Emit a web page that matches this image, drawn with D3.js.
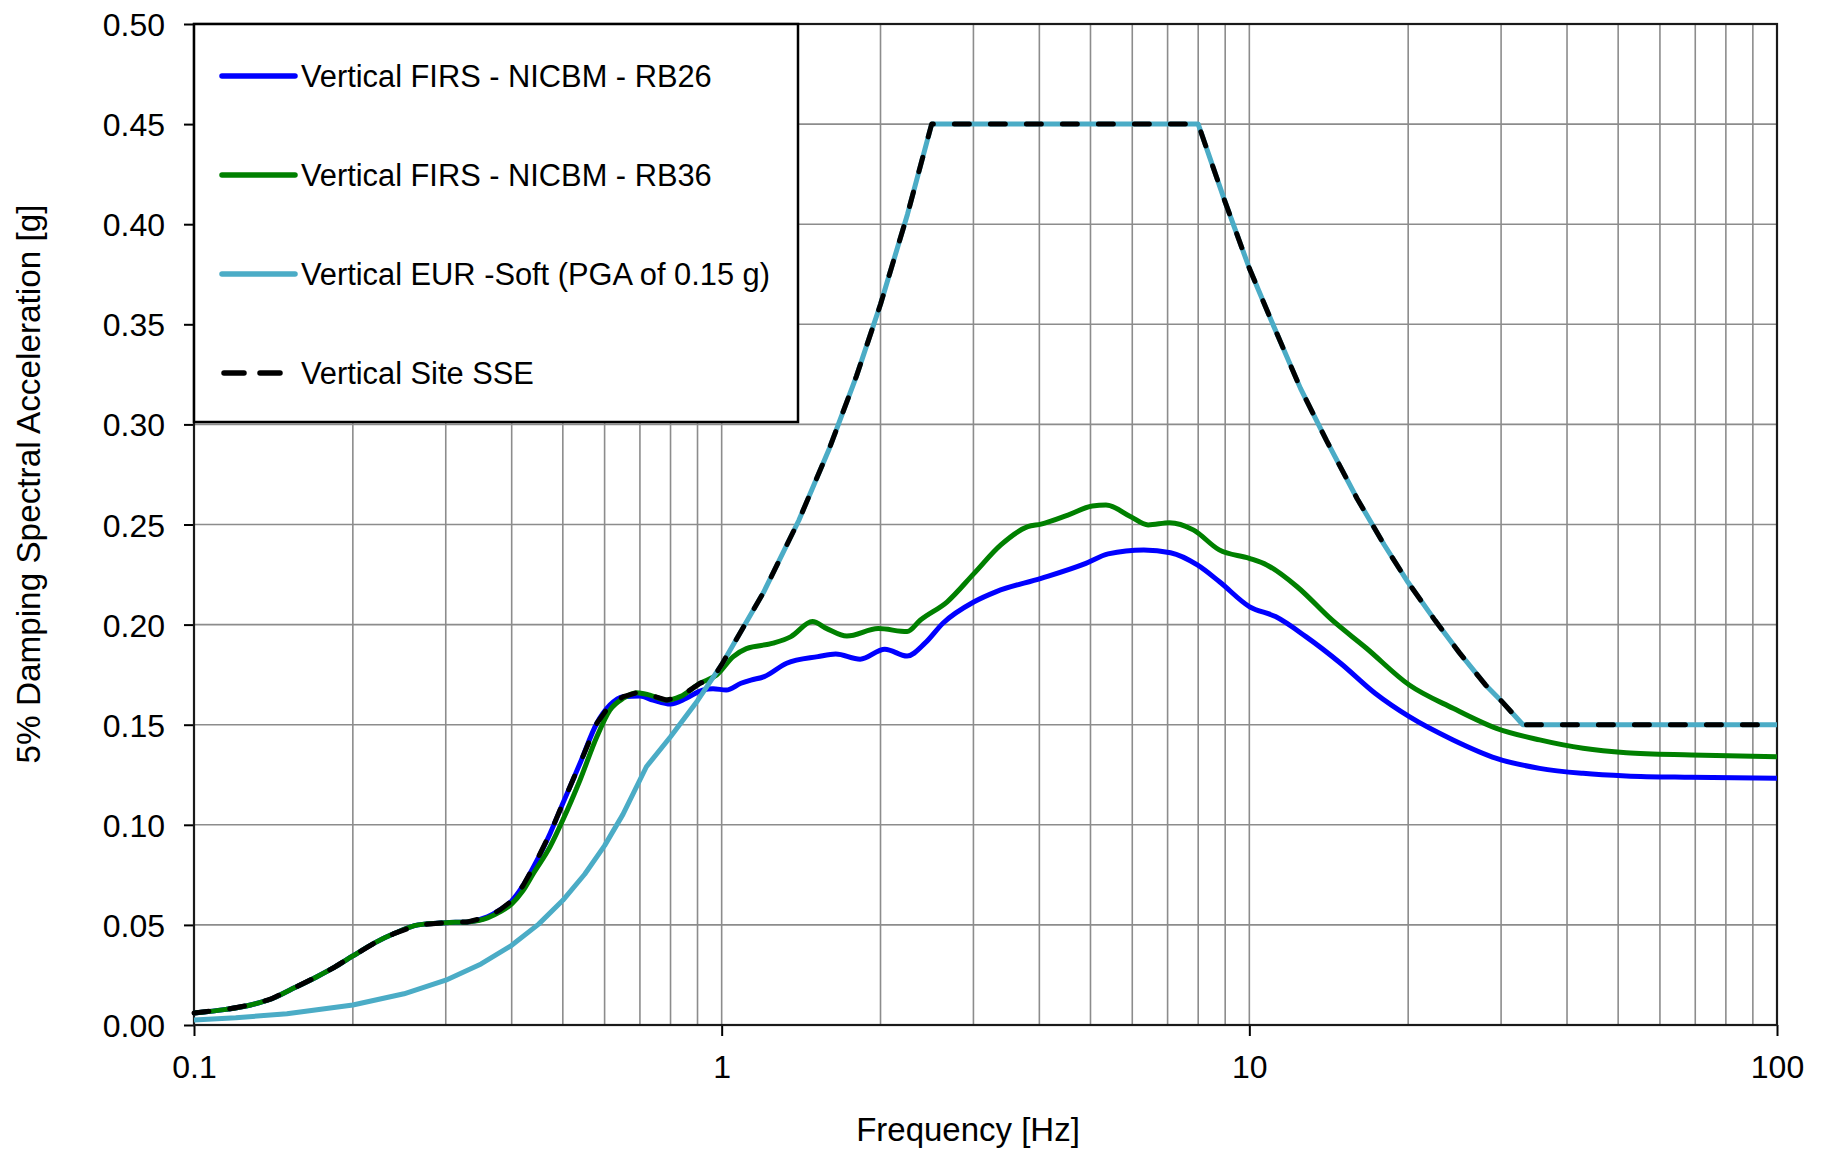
<!DOCTYPE html>
<html>
<head>
<meta charset="utf-8">
<script src="https://cdn.jsdelivr.net/npm/d3@7"></script>
<style>
  body { margin: 0; background: #fff; }
  svg text { font-family: "Liberation Sans", Arial, sans-serif; fill: #000; }
</style>
</head>
<body>
<script>
// values (frequency in Hz, acceleration in g)
var freqRB26 = [0.1, 0.115, 0.128, 0.14, 0.152, 0.171, 0.185, 0.2, 0.22, 0.24, 0.266, 0.3, 0.33, 0.36, 0.38, 0.4, 0.42, 0.44, 0.473, 0.5, 0.539, 0.58, 0.614, 0.651, 0.7, 0.741, 0.8, 0.857, 0.92, 0.963, 1.02, 1.088, 1.136, 1.204, 1.328, 1.522, 1.645, 1.83, 2.038, 2.246, 2.428, 2.626, 3.009, 3.316, 4.03, 4.9, 5.4, 6.31, 7.09, 7.97, 8.78, 10.0, 11.21, 12.8, 14.89, 17.31, 20.1, 24.33, 29.4, 35.5, 42.9, 51.8, 68.8, 100];
var accRB26 = [0.006, 0.0078, 0.010, 0.013, 0.0175, 0.0241, 0.029, 0.0345, 0.041, 0.0458, 0.050, 0.0511, 0.0515, 0.054, 0.0575, 0.062, 0.0695, 0.079, 0.0957, 0.1107, 0.1307, 0.1507, 0.1598, 0.164, 0.1643, 0.1623, 0.1603, 0.1632, 0.1673, 0.168, 0.1673, 0.1707, 0.1723, 0.174, 0.1807, 0.184, 0.1853, 0.1827, 0.1877, 0.1843, 0.1907, 0.2007, 0.2114, 0.2165, 0.2231, 0.2306, 0.2353, 0.2373, 0.2359, 0.2298, 0.2214, 0.209, 0.204, 0.194, 0.1807, 0.1657, 0.154, 0.1424, 0.1332, 0.1282, 0.1257, 0.1244, 0.1237, 0.1232];

var freqRB36 = [0.1, 0.115, 0.128, 0.14, 0.152, 0.171, 0.185, 0.2, 0.22, 0.24, 0.266, 0.3, 0.33, 0.36, 0.38, 0.4, 0.42, 0.44, 0.473, 0.5, 0.539, 0.58, 0.614, 0.651, 0.69, 0.731, 0.787, 0.834, 0.91, 0.978, 1.052, 1.114, 1.252, 1.353, 1.486, 1.582, 1.727, 1.98, 2.246, 2.381, 2.676, 3.009, 3.381, 3.802, 4.03, 4.53, 5.04, 5.35, 5.95, 6.43, 7.06, 7.83, 8.77, 10.0, 10.79, 12.32, 14.34, 16.67, 20.1, 24.33, 29.4, 35.5, 42.9, 51.8, 68.8, 100];
var accRB36 = [0.006, 0.0078, 0.010, 0.013, 0.0175, 0.0241, 0.029, 0.0345, 0.041, 0.0458, 0.050, 0.0511, 0.0515, 0.0535, 0.0565, 0.0605, 0.067, 0.0758, 0.0891, 0.1024, 0.1224, 0.144, 0.1573, 0.1632, 0.166, 0.1648, 0.1623, 0.164, 0.1707, 0.1748, 0.184, 0.188, 0.1907, 0.194, 0.2015, 0.198, 0.1943, 0.198, 0.1965, 0.2023, 0.2114, 0.2256, 0.2398, 0.2489, 0.2502, 0.2547, 0.2592, 0.2597, 0.254, 0.2498, 0.2509, 0.2473, 0.2373, 0.2331, 0.2298, 0.2189, 0.2023, 0.1882, 0.1698, 0.1582, 0.1482, 0.1424, 0.1382, 0.136, 0.1349, 0.134];

var freqEUR = [0.1, 0.12, 0.15, 0.2, 0.25, 0.3, 0.35, 0.4, 0.45, 0.5, 0.55, 0.6, 0.65, 0.72, 0.8, 0.9, 1.0, 1.2, 1.4, 1.6, 1.8, 2.0, 2.25, 2.5, 8, 9, 10, 11, 12.5, 14, 16, 18, 20, 22.5, 25, 28, 30, 33, 100];
var accEUR = [0.0025, 0.0036, 0.0056, 0.0100, 0.0156, 0.0224, 0.0305, 0.0398, 0.0504, 0.0623, 0.0753, 0.0896, 0.1052, 0.129, 0.144, 0.162, 0.180, 0.216, 0.252, 0.288, 0.324, 0.360, 0.405, 0.450, 0.450, 0.411, 0.378, 0.352, 0.318, 0.292, 0.263, 0.240, 0.221, 0.202, 0.186, 0.170, 0.162, 0.150, 0.150];

var freqSSE = [0.1, 0.115, 0.128, 0.14, 0.152, 0.171, 0.185, 0.2, 0.22, 0.24, 0.266, 0.3, 0.33, 0.36, 0.38, 0.4, 0.42, 0.44, 0.473, 0.5, 0.539, 0.58, 0.614, 0.651, 0.69, 0.731, 0.787, 0.834, 0.91, 0.963, 1.0, 1.2, 1.4, 1.6, 1.8, 2.0, 2.25, 2.5, 8, 9, 10, 11, 12.5, 14, 16, 18, 20, 22.5, 25, 28, 30, 33, 100];
var accSSE = [0.006, 0.0078, 0.010, 0.013, 0.0175, 0.0241, 0.029, 0.0345, 0.041, 0.0458, 0.050, 0.0511, 0.0515, 0.054, 0.0575, 0.062, 0.0695, 0.079, 0.0957, 0.1107, 0.1307, 0.1507, 0.1598, 0.164, 0.166, 0.1648, 0.1623, 0.164, 0.1707, 0.1733, 0.180, 0.216, 0.252, 0.288, 0.324, 0.360, 0.405, 0.450, 0.450, 0.411, 0.378, 0.352, 0.318, 0.292, 0.263, 0.240, 0.221, 0.202, 0.186, 0.170, 0.162, 0.150, 0.150];

var legendLabels = ["Vertical FIRS - NICBM - RB26", "Vertical FIRS - NICBM - RB36", "Vertical EUR -Soft (PGA of 0.15 g)", "Vertical Site SSE"];
var xTickValues = [0.1, 1, 10, 100];
var yTickValues = [0, 0.05, 0.1, 0.15, 0.2, 0.25, 0.3, 0.35, 0.4, 0.45, 0.5];

var W = 1829, H = 1153;
// plot box (window.top is taken, so own names)
var pLeft = 194, pRight = 1777, pTop = 24, pBottom = 1025;

var svg = d3.select("body").append("svg")
    .attr("width", W)
    .attr("height", H);

var x = d3.scaleLog().domain([0.1, 100]).range([pLeft, pRight]);
var y = d3.scaleLinear().domain([0, 0.5]).range([pBottom, pTop]);

// grid lines
svg.append("g")
    .selectAll("line")
    .data(x.ticks())
    .enter().append("line")
    .attr("x1", function(d) { return x(d); })
    .attr("x2", function(d) { return x(d); })
    .attr("y1", pTop)
    .attr("y2", pBottom)
    .attr("stroke", "#8c8c8c")
    .attr("stroke-width", 1.6);

svg.append("g")
    .selectAll("line")
    .data(yTickValues)
    .enter().append("line")
    .attr("x1", pLeft)
    .attr("x2", pRight)
    .attr("y1", function(d) { return y(d); })
    .attr("y2", function(d) { return y(d); })
    .attr("stroke", "#8c8c8c")
    .attr("stroke-width", 1.6);

// axes
var xAxis = svg.append("g")
    .attr("transform", "translate(0," + pBottom + ")")
    .call(d3.axisBottom(x).tickValues(xTickValues).tickSize(11).tickPadding(19)
        .tickFormat(function(d) { return String(d); }));
var yAxis = svg.append("g")
    .attr("transform", "translate(" + pLeft + ",0)")
    .call(d3.axisLeft(y).tickValues(yTickValues).tickSize(10).tickPadding(19)
        .tickFormat(d3.format(".2f")));

[xAxis, yAxis].forEach(function(a) {
    a.select(".domain").remove();
    a.selectAll(".tick line").attr("stroke", "#000").attr("stroke-width", 2);
    a.selectAll(".tick text").attr("font-size", 32).attr("font-family", null);
});
yAxis.selectAll(".tick text").attr("dy", "0.36em");

// plot frame
svg.append("rect")
    .attr("x", pLeft).attr("y", pTop)
    .attr("width", pRight - pLeft).attr("height", pBottom - pTop)
    .attr("fill", "none")
    .attr("stroke", "#1a1a1a")
    .attr("stroke-width", 2.2);

// curves
var series = [
    { f: freqRB26, a: accRB26, color: "#0000ff", curve: d3.curveMonotoneX, dash: null },
    { f: freqRB36, a: accRB36, color: "#008000", curve: d3.curveMonotoneX, dash: null },
    { f: freqEUR, a: accEUR, color: "#4bacc6", curve: d3.curveLinear, dash: null },
    { f: freqSSE, a: accSSE, color: "#000000", curve: d3.curveLinear, dash: "15,21" }
];

series.forEach(function(s) {
    var pts = s.f.map(function(f, i) { return [f, s.a[i]]; });
    var line = d3.line()
        .x(function(d) { return x(d[0]); })
        .y(function(d) { return y(d[1]); })
        .curve(s.curve);
    svg.append("path")
        .datum(pts)
        .attr("d", line)
        .attr("fill", "none")
        .attr("stroke", s.color)
        .attr("stroke-width", 5)
        .attr("stroke-linejoin", "round")
        .attr("stroke-linecap", s.dash ? "round" : "butt")
        .attr("stroke-dasharray", s.dash);
});

// legend
var lg = svg.append("g");
lg.append("rect")
    .attr("x", 194).attr("y", 24)
    .attr("width", 604).attr("height", 398)
    .attr("fill", "#fff")
    .attr("stroke", "#000")
    .attr("stroke-width", 2.5);

var rowY = d3.scalePoint().domain(d3.range(legendLabels.length)).range([76, 373]);
legendLabels.forEach(function(lab, i) {
    var s = series[i];
    var ly = rowY(i);
    lg.append("line")
        .attr("x1", s.dash ? 224 : 222).attr("x2", s.dash ? 282 : 295)
        .attr("y1", ly).attr("y2", ly)
        .attr("stroke", s.color)
        .attr("stroke-width", 5.5)
        .attr("stroke-linecap", "round")
        .attr("stroke-dasharray", s.dash ? "20,16" : null);
    lg.append("text")
        .attr("x", 301).attr("y", ly + 11)
        .attr("font-size", 30.8)
        .text(lab);
});

// axis titles
svg.append("text")
    .attr("x", 968).attr("y", 1141)
    .attr("text-anchor", "middle")
    .attr("font-size", 33)
    .text("Frequency [Hz]");

svg.append("text")
    .attr("transform", "translate(40,484) rotate(-90)")
    .attr("text-anchor", "middle")
    .attr("font-size", 33.3)
    .text("5% Damping Spectral Acceleration [g]");
</script>
</body>
</html>
